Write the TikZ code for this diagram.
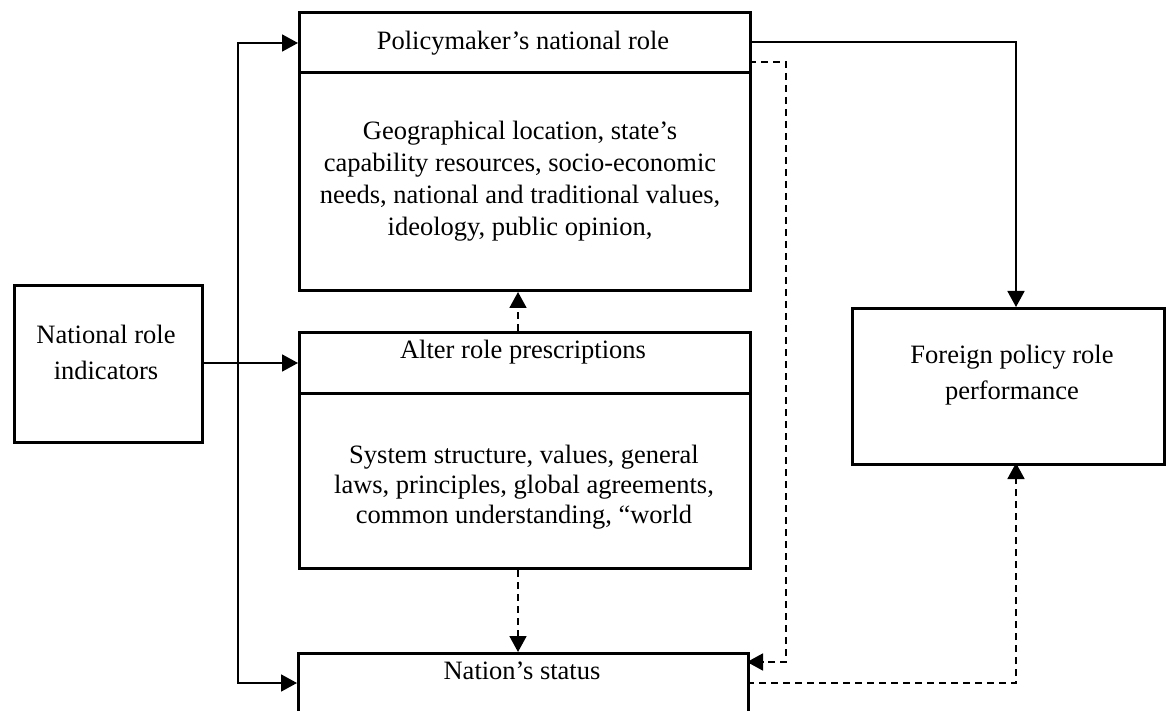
\documentclass[tikz,border=0pt]{standalone}
\usepackage{fontspec}
\setmainfont{Liberation Serif}
\usetikzlibrary{arrows.meta}
\begin{document}
\begin{tikzpicture}[x=1pt,y=-1pt,
  boxline/.style={draw=black,line width=3pt},
  conn/.style={draw=black,line width=1.8pt},
  dconn/.style={conn,dash pattern=on 7pt off 5pt},
  arr/.style={-{Triangle[length=16pt,width=17pt]}},
  txt/.style={font=\fontsize{26.5}{32}\selectfont,align=center,inner sep=0pt}
]
\useasboundingbox (0,0) rectangle (1170,711);
\begin{scope}
\clip (0,0) rectangle (1170,711);
% boxes
\node[boxline,minimum width=451pt,minimum height=278pt,inner sep=0pt,anchor=north west] (pm) at (298,11) {};
\node[boxline,minimum width=451pt,minimum height=236pt,inner sep=0pt,anchor=north west] (al) at (298,331) {};
\node[boxline,minimum width=450pt,minimum height=80pt,inner sep=0pt,anchor=north west] (ns) at (297,652) {};
\node[boxline,minimum width=188pt,minimum height=157pt,inner sep=0pt,anchor=north west] (nri) at (13,284) {};
\node[boxline,minimum width=312pt,minimum height=156pt,inner sep=0pt,anchor=north west] (fp) at (851,307) {};
% dividers
\draw[boxline] (pm.west |- 0,73) -- (pm.east |- 0,73);
\draw[boxline] (al.west |- 0,393) -- (al.east |- 0,393);
\end{scope}
% texts
\node[txt,anchor=base] (pmt) at (523,50) {Policymaker’s national role};
\node[txt] (pmb) at (520,181) {Geographical location, state’s\\capability resources, socio-economic\\needs, national and traditional values,\\ideology, public opinion,};
\node[txt,anchor=base] (alt) at (523,359) {Alter role prescriptions};
\node[txt,font=\fontsize{26.5}{30}\selectfont] (alb) at (524,487) {System structure, values, general\\laws, principles, global agreements,\\common understanding, “world};
\node[txt,anchor=base] (nst) at (522,679) {Nation’s status};
\node[txt,font=\fontsize{26.5}{36}\selectfont] (nrit) at (106,352) {National role\\indicators};
\node[txt,font=\fontsize{26.5}{36}\selectfont] (fpt) at (1012,375) {Foreign policy role\\performance};
% connector coordinates
\coordinate (spine) at (238,363);
\coordinate (pmIn) at (298,43);
\coordinate (nsIn) at (297,683);
\coordinate (pmOut) at (749,42);
\coordinate (fpTop) at (1016,307);
\coordinate (pmOut2) at (749,62);
\coordinate (nsIn2) at (747,662);
\coordinate (nsOut) at (747,683);
\coordinate (fpBot) at (1016,463);
\coordinate (dashX) at (786,0);
% connectors
\draw[conn,arr] (nri.east |- spine) -- (al.west |- spine);
\draw[conn,arr] (spine) |- (pmIn);
\draw[conn,arr] (spine) |- (nsIn);
\draw[conn,arr] (pmOut) -| (fpTop);
\draw[dconn,arr] (pmOut2) -- (dashX |- pmOut2) -- (dashX |- nsIn2) -- (nsIn2);
\draw[dconn,arr] (al.north -| 518,0) -- (pm.south -| 518,0);
\draw[dconn,arr] (al.south -| 518,0) -- (ns.north -| 518,0);
\draw[dconn,arr] (nsOut) -| (fpBot);
\end{tikzpicture}
\end{document}
